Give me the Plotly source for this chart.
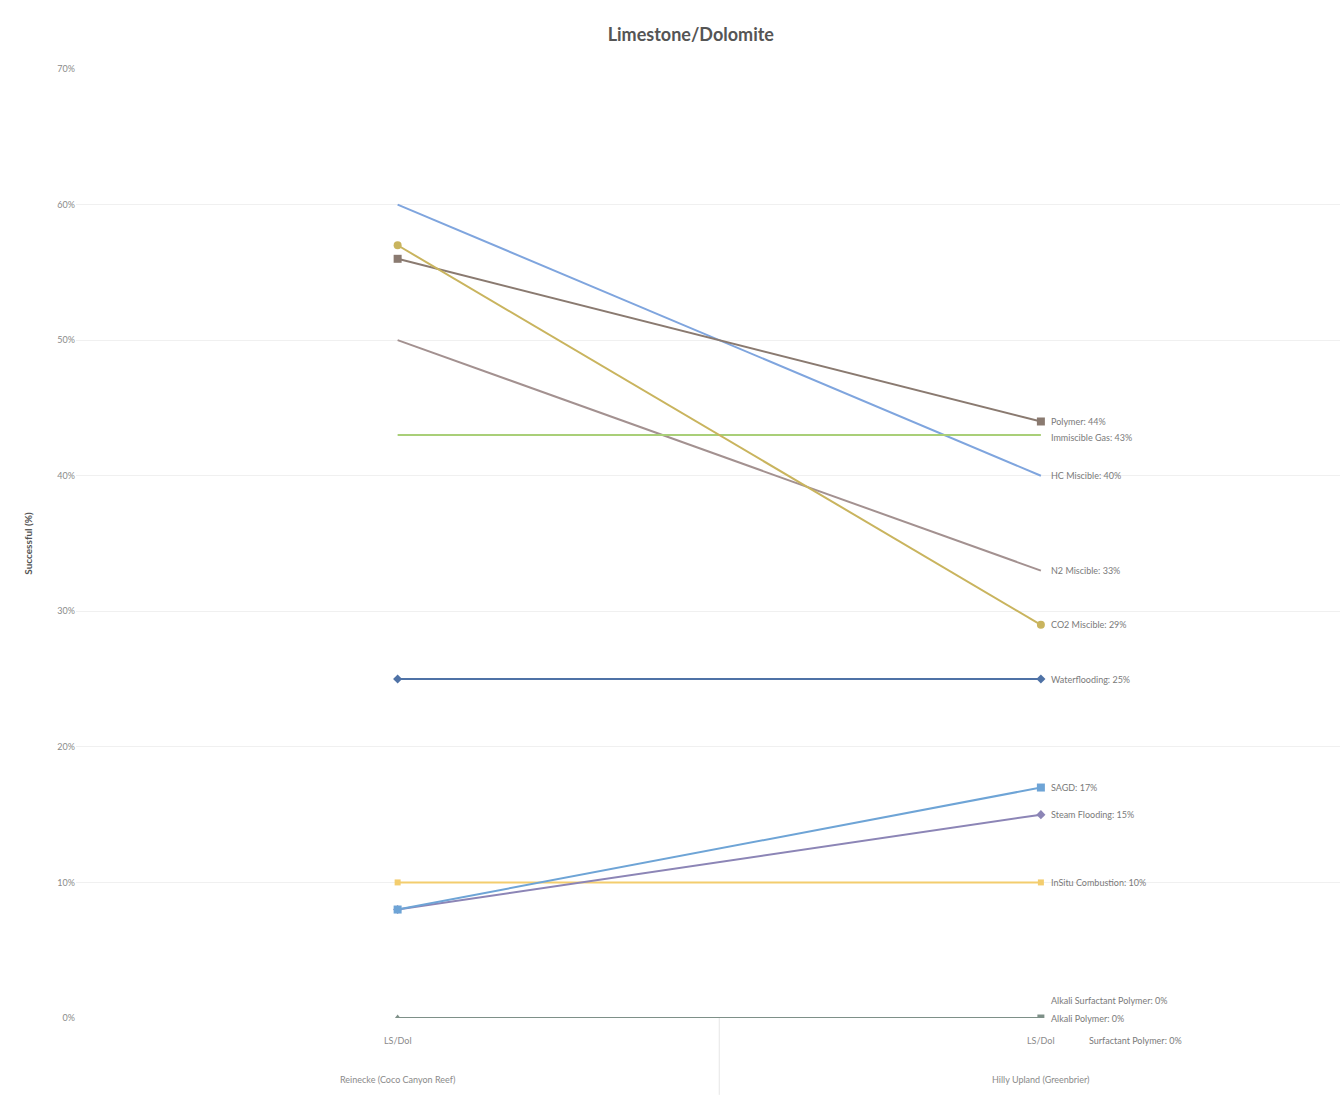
import plotly.graph_objects as go

# Field groups and lithology sub-category on the x axis
fields = ["Reinecke (Coco Canyon Reef)", "Hilly Upland (Greenbrier)"]
lithology = ["LS/Dol", "LS/Dol"]

# Success rate (%) per EOR method, one value per field
hc_miscible = [60, 40]
polymer = [56, 44]
co2_miscible = [57, 29]
n2_miscible = [50, 33]
immiscible_gas = [43, 43]
waterflooding = [25, 25]
sagd = [8, 17]
steam_flooding = [8, 15]
insitu_combustion = [10, 10]
alkali_surfactant_polymer = [0, 0]
alkali_polymer = [0, 0]
surfactant_polymer = [0, 0]

y_ticks = [0, 10, 20, 30, 40, 50, 60, 70]

series = [
    ("HC Miscible", hc_miscible, "#7fa5de", None, None),
    ("N2 Miscible", n2_miscible, "#a39190", None, None),
    ("Immiscible Gas", immiscible_gas, "#a9cf78", None, None),
    ("Polymer", polymer, "#8a7a70", ["square", "square"], 8),
    ("CO2 Miscible", co2_miscible, "#c9b45e", ["circle", "circle"], 8),
    ("Waterflooding", waterflooding, "#4f72a6", ["diamond", "diamond"], 7),
    ("InSitu Combustion", insitu_combustion, "#f3cd6e", ["square", "square"], 6),
    ("Steam Flooding", steam_flooding, "#8c85b6", ["diamond", "diamond"], 7),
    ("SAGD", sagd, "#6ea4d6", ["square", "square"], 8),
    ("Surfactant Polymer", surfactant_polymer, "#7fa2bd", None, None),
    ("Alkali Surfactant Polymer", alkali_surfactant_polymer, "#8aa8b8", None, None),
    ("Alkali Polymer", alkali_polymer, "#7e9088", ["triangle-up", "square"], 7),
]

# vertical nudges for end labels that would otherwise collide
label_shift = {
    "Polymer": 0, "Immiscible Gas": -2,
    "Alkali Surfactant Polymer": 18, "Alkali Polymer": 0, "Surfactant Polymer": -22,
}
label_xshift = {"Surfactant Polymer": 38}

label_font = dict(family="Lato, Open Sans, sans-serif", size=9, color="#7a7a7a")

fig = go.Figure()

for name, vals, color, symbols, size in series:
    mode = "lines+markers" if symbols else "lines"
    fig.add_trace(go.Scatter(
        x=fields, y=vals, mode=mode, name=name,
        line=dict(color=color, width=2),
        marker=dict(symbol=symbols, size=size, color=color) if symbols else None,
        showlegend=False,
    ))
    fig.add_annotation(
        x=fields[1], y=vals[1], xref="x", yref="y",
        text=f"{name}: {vals[1]}%", showarrow=False,
        xanchor="left", yanchor="middle",
        xshift=8 + label_xshift.get(name, 0), yshift=label_shift.get(name, 0),
        font=label_font,
    )

# two-level category labels under the plot
for field, lith in zip(fields, lithology):
    fig.add_annotation(x=field, y=-0.024, xref="x", yref="paper", text=lith,
                       showarrow=False, yanchor="middle",
                       font=dict(family="Lato, Open Sans, sans-serif", size=9, color="#8a8a8a"))
    fig.add_annotation(x=field, y=-0.065, xref="x", yref="paper", text=field,
                       showarrow=False, yanchor="middle",
                       font=dict(family="Lato, Open Sans, sans-serif", size=9, color="#8a8a8a"))

# divider between the two field groups
fig.add_shape(type="line", xref="x", yref="paper", x0=0.5, x1=0.5, y0=0, y1=-0.081,
              line=dict(color="#e6e6e6", width=1))

fig.update_layout(
    width=1344, height=1099,
    paper_bgcolor="white", plot_bgcolor="white",
    margin=dict(l=76, r=4, t=69, b=81),
    title=dict(
        text="<b>Limestone/Dolomite</b>", x=0.514, xanchor="center",
        y=0.968, yanchor="middle",
        font=dict(family="Lato, Open Sans, sans-serif", size=18, color="#555555"),
    ),
    font=dict(family="Lato, Open Sans, sans-serif", size=9, color="#8a8a8a"),
)

fig.update_xaxes(
    type="category", range=[-0.5, 1.465],
    showgrid=False, showline=False, zeroline=False, showticklabels=False,
)
fig.update_yaxes(
    range=[0, 70], tickvals=y_ticks, ticktext=[f"{v}%" for v in y_ticks],
    showgrid=True, gridcolor="#f0f0f0", gridwidth=1,
    zeroline=False, showline=False, ticks="",
    tickfont=dict(size=9, color="#8a8a8a"),
    title=dict(text="<b>Successful (%)</b>", standoff=22,
               font=dict(size=10, color="#555555")),
)

fig.write_html("out.html")
